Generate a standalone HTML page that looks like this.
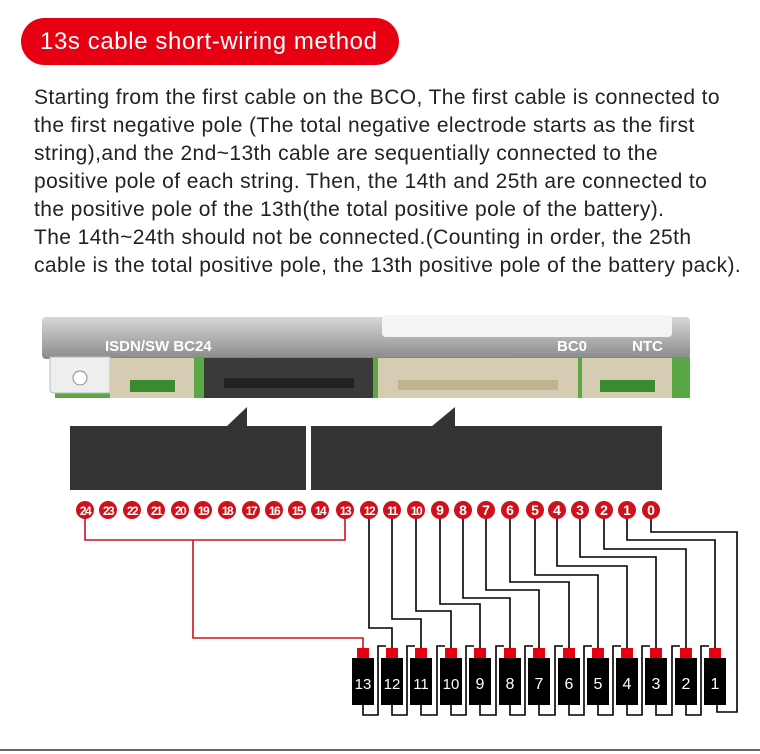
<!DOCTYPE html>
<html><head><meta charset="utf-8"><style>
body{margin:0;background:#fff;width:760px;height:754px;overflow:hidden;font-family:"Liberation Sans",sans-serif}
.pill{position:absolute;left:21px;top:18px;width:378px;height:47px;border-radius:24px;background:#e60012;color:#fff;font-size:24px;line-height:47px;padding-left:19px;box-sizing:border-box;letter-spacing:0.6px;white-space:nowrap}
.txt{position:absolute;left:34px;top:84px;width:730px;font-size:21px;line-height:28px;color:#222;letter-spacing:0.4px;white-space:nowrap}
svg{position:absolute;left:0;top:0}
</style></head><body>
<div class="pill">13s cable short-wiring method</div>
<div class="txt">Starting from the first cable on the BCO, The first cable is connected to<br>the first negative pole (The total negative electrode starts as the first<br>string),and the 2nd~13th cable are sequentially connected to the<br>positive pole of each string. Then, the 14th and 25th are connected to<br>the positive pole of the 13th(the total positive pole of the battery).<br>The 14th~24th should not be connected.(Counting in order, the 25th<br>cable is the total positive pole, the 13th positive pole of the battery pack).</div>
<svg width="760" height="754" viewBox="0 0 760 754">
<defs><linearGradient id="g" x1="0" y1="0" x2="0" y2="1"><stop offset="0" stop-color="#d8d8d8"/><stop offset="1" stop-color="#8a8a8a"/></linearGradient></defs>
<rect x="42" y="317" width="648" height="42" fill="url(#g)" rx="4"/>
<rect x="55" y="357" width="635" height="41" fill="#5aa845"/>
<path d="M50 357h60v36h-56q-4 0-4-4z" fill="#eee" stroke="#bbb"/>
<circle cx="80" cy="378" r="7" fill="#fff" stroke="#888"/>
<rect x="382" y="315" width="290" height="22" fill="#f4f4f4" rx="4"/>
<text x="105" y="351" font-size="15" font-weight="bold" fill="#fff">ISDN/SW BC24</text>
<text x="557" y="351" font-size="15" font-weight="bold" fill="#fff">BC0</text>
<text x="632" y="351" font-size="15" font-weight="bold" fill="#fff">NTC</text>
<rect x="110" y="358" width="84" height="40" fill="#d6ccb4"/>
<rect x="130" y="380" width="45" height="12" fill="#3c8a30"/>
<rect x="204" y="358" width="169" height="40" fill="#3a3a3a"/>
<rect x="224" y="378" width="130" height="10" fill="#222"/>
<rect x="378" y="358" width="200" height="40" fill="#d6ccb4"/>
<rect x="398" y="380" width="160" height="10" fill="#bfb290"/>
<rect x="582" y="358" width="90" height="40" fill="#d6ccb4"/>
<rect x="600" y="380" width="55" height="12" fill="#3c8a30"/>
<rect x="70" y="426" width="236" height="64" fill="#333"/>
<rect x="311" y="426" width="351" height="64" fill="#333"/>
<polygon points="226,427 247,427 247,407" fill="#333"/>
<polygon points="431,427 455,427 455,407" fill="#333"/>
<g fill="none" stroke="#c8141e" stroke-width="1.6">
<polyline points="85,510 85,540 345,540 345,510"/>
<polyline points="193,540 193,638 363,638 363,650"/>
</g>
<g fill="none" stroke="#000" stroke-width="1.6" id="w"></g>
<g id="b"></g>
<g id="c"></g>
<line x1="0" y1="750" x2="760" y2="750" stroke="#333" stroke-width="1.5"/>
</svg>
<script>
var ns="http://www.w3.org/2000/svg";
var cx=[651,627,604,580,557,535,510,486,463,440,416,392,369,345,320,297,274,251,227,203,180,156,132,108,85];
var bx=[0,715,686,656,627,598,569,539,510,480,451,421,392,363];
var ly=[532,540,549,557,566,575,582,590,598,604,611,619,628];
var w=document.getElementById('w'),b=document.getElementById('b'),c=document.getElementById('c');
function el(t,a,p){var e=document.createElementNS(ns,t);for(var k in a)e.setAttribute(k,a[k]);p.appendChild(e);return e;}
for(var i=1;i<=12;i++)el('polyline',{points:cx[i]+',510 '+cx[i]+','+ly[i]+' '+bx[i]+','+ly[i]+' '+bx[i]+',650'},w);
el('polyline',{points:'651,510 651,532 737,532 737,712 717,712 717,705'},w);
for(var k=13;k>=2;k--){var x=bx[k],n=bx[k-1];el('polyline',{points:x+',705 '+x+',715 '+(n-14)+',715 '+(n-14)+',646 '+(n-6)+',646'},w);}
for(var k=1;k<=13;k++){var x=bx[k];
el('rect',{x:x-6,y:648,width:12,height:11,fill:'#e60012'},b);
el('rect',{x:x-11,y:658,width:22,height:47,fill:'#000'},b);
var t=el('text',{x:x,y:689,'font-size':k>9?15:16,'fill':'#fff','text-anchor':'middle'},b);t.textContent=k;}
for(var i=0;i<25;i++){el('circle',{cx:cx[i],cy:510,r:9,fill:'#d0111b'},c);
var t=el('text',{x:cx[i],y:515,'font-size':i>9?12:14,'font-weight':'bold','fill':'#fff','text-anchor':'middle','letter-spacing':i>9?-1.5:0},c);t.textContent=i;}
</script>
</body></html>
